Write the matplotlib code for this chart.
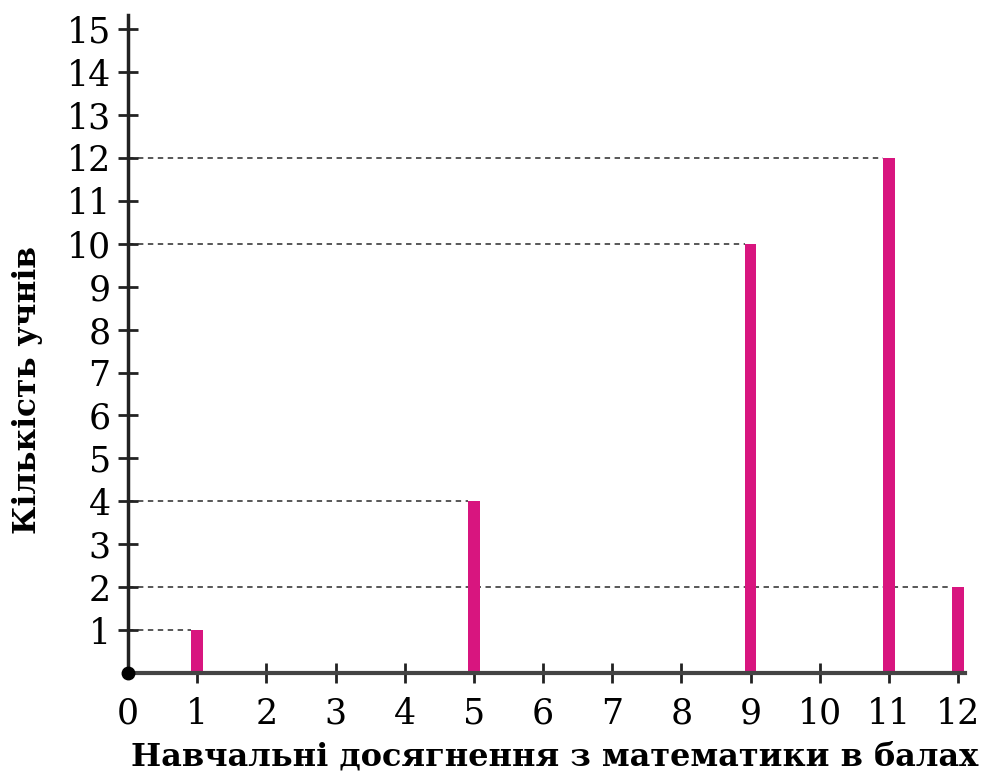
import matplotlib
matplotlib.use("Agg")
import matplotlib.pyplot as plt

scores = [1, 5, 9, 11, 12]
counts = [1, 4, 10, 12, 2]
x_ticks = list(range(0, 13))
y_ticks = list(range(1, 16))
x_label = "Навчальні досягнення з математики в балах"
y_label = "Кількість учнів"

bar_color = "#d8157f"
bar_w = 0.17

fig = plt.figure(figsize=(9.88, 7.74), dpi=100)
ax = fig.add_axes([128/988, 101/774, 837/988, 658/774])
ax.set_xlim(0, 12.1)
ax.set_ylim(0, 15.33)

for s, c in zip(scores, counts):
    ax.plot([0, s - bar_w/2], [c, c], linestyle=(0, (3, 2.5)), color="#4a4a4a",
            linewidth=1.3, zorder=1)
ax.bar(scores, counts, width=bar_w, color=bar_color, zorder=2)

for side in ["top", "right"]:
    ax.spines[side].set_visible(False)
ax.spines["left"].set_linewidth(2.5)
ax.spines["bottom"].set_linewidth(3)
ax.spines["left"].set_color("#222222")
ax.spines["bottom"].set_color("#444444")
ax.spines["left"].set_zorder(3)
ax.spines["bottom"].set_zorder(3)

ax.plot([0], [0], "o", color="black", markersize=9, clip_on=False, zorder=4)

ax.set_xticks(x_ticks)
ax.set_xticklabels([str(v) for v in x_ticks], fontfamily="DejaVu Serif", fontsize=25)
ax.set_yticks(y_ticks)
ax.set_yticklabels([str(v) for v in y_ticks], fontfamily="DejaVu Serif", fontsize=25)
ax.tick_params(axis="both", direction="inout", length=14, width=2, color="#222222")
ax.tick_params(axis="x", pad=10)
ax.tick_params(axis="y", pad=5.5)
ax.xaxis.get_major_ticks()[0].tick1line.set_visible(False)

fig.text(555/988, 9/774, x_label, fontfamily="DejaVu Serif", fontweight="bold",
         fontsize=23, ha="center", va="baseline")
fig.text(28/988, 1 - 390/774, y_label, fontfamily="DejaVu Serif", fontweight="bold",
         fontsize=22.5, ha="center", va="center", rotation=90)

fig.savefig("out.png", dpi=100)
